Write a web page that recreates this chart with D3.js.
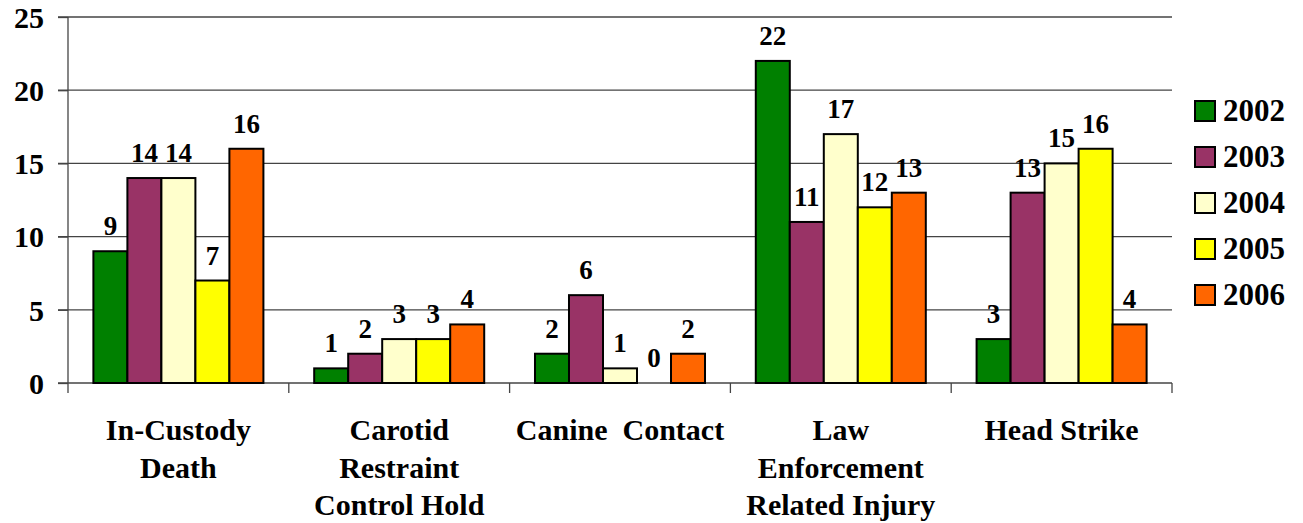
<!DOCTYPE html>
<html>
<head>
<meta charset="utf-8">
<script src="https://cdn.jsdelivr.net/npm/d3@7"></script>
</head>
<body style="margin:0;background:#fff">
<div id="chart"></div>
<script>
// data
var categories = [
  ["In-Custody", "Death"],
  ["Carotid", "Restraint", "Control Hold"],
  ["Canine  Contact"],
  ["Law", "Enforcement", "Related Injury"],
  ["Head Strike"]
];
var years = ["2002", "2003", "2004", "2005", "2006"];
var values = [
  [9, 14, 14, 7, 16],
  [1, 2, 3, 3, 4],
  [2, 6, 1, 0, 2],
  [22, 11, 17, 12, 13],
  [3, 13, 15, 16, 4]
];
var yTicks = [0, 5, 10, 15, 20, 25];
var colors = ["#008000", "#993366", "#FFFFCC", "#FFFF00", "#FF6600"];

var width = 1303, height = 523;
var plotLeft = 68, plotRight = 1172, plotTop = 17, plotBottom = 383;
var fontFam = "'Liberation Serif', 'Times New Roman', Tinos, serif";

var svg = d3.select("#chart").append("svg")
  .attr("width", width)
  .attr("height", height)
  .style("font-family", fontFam)
  .style("font-weight", "bold");

// scales
var x0 = d3.scaleBand()
  .domain(d3.range(categories.length))
  .range([plotLeft, plotRight]);
// bar group ~170px wide inside a ~221px category
var x1 = d3.scaleBand()
  .domain(years)
  .range([x0.bandwidth() * 0.115, x0.bandwidth() * 0.885]);

var y = d3.scaleLinear().domain([0, 25]).range([plotBottom, plotTop]);

// gridlines
svg.append("g").selectAll("line").data(yTicks.filter(function(d) { return d > 0; }))
  .enter().append("line")
  .attr("x1", plotLeft - 10).attr("x2", plotRight)
  .attr("y1", function(d) { return y(d); })
  .attr("y2", function(d) { return y(d); })
  .attr("stroke", "#444").attr("stroke-width", 1.3);

// y axis
var yAxis = d3.axisLeft(y).tickValues(yTicks).tickSize(10).tickPadding(14);
var gy = svg.append("g").attr("transform", "translate(" + plotLeft + ",0)").call(yAxis);
gy.attr("font-family", null).attr("font-size", null);
gy.select(".domain").remove();
gy.selectAll(".tick line").attr("stroke", "#444").attr("stroke-width", 1.3);
gy.selectAll(".tick text").attr("font-size", 30).attr("dy", "0.34em");
svg.append("line")
  .attr("x1", plotLeft).attr("x2", plotLeft)
  .attr("y1", plotTop).attr("y2", plotBottom + 10)
  .attr("stroke", "#444").attr("stroke-width", 1.3);

// x axis line and category ticks
svg.append("line")
  .attr("x1", plotLeft - 10).attr("x2", plotRight)
  .attr("y1", plotBottom).attr("y2", plotBottom)
  .attr("stroke", "#444").attr("stroke-width", 1.3);
svg.append("g").selectAll("line").data(d3.range(1, categories.length + 1))
  .enter().append("line")
  .attr("x1", function(i) { return x0(0) + i * x0.step(); })
  .attr("x2", function(i) { return x0(0) + i * x0.step(); })
  .attr("y1", plotBottom).attr("y2", plotBottom + 10)
  .attr("stroke", "#444").attr("stroke-width", 1.3);

// bars
var groups = svg.selectAll(".cat").data(values)
  .enter().append("g")
  .attr("class", "cat")
  .attr("transform", function(d, i) { return "translate(" + x0(i) + ",0)"; });

groups.selectAll("rect").data(function(d) { return d; })
  .enter().append("rect")
  .attr("x", function(d, j) { return x1(years[j]); })
  .attr("width", x1.bandwidth())
  .attr("y", function(d) { return y(d); })
  .attr("height", function(d) { return y(0) - y(d); })
  .attr("fill", function(d, j) { return colors[j]; })
  .attr("stroke", function(d) { return d > 0 ? "#000" : "none"; })
  .attr("stroke-width", 2);

// value labels
groups.selectAll(".val").data(function(d) { return d; })
  .enter().append("text")
  .attr("class", "val")
  .attr("x", function(d, j) { return x1(years[j]) + x1.bandwidth() / 2; })
  .attr("y", function(d) { return y(d) - 16; })
  .attr("text-anchor", "middle")
  .attr("font-size", 27)
  .text(function(d) { return d; });

// category labels
svg.selectAll(".catlabel").data(categories)
  .enter().append("text")
  .attr("class", "catlabel")
  .attr("text-anchor", "middle")
  .attr("x", function(d, i) { return x0(i) + x0.bandwidth() / 2; })
  .attr("y", 440)
  .attr("font-size", 30)
  .attr("xml:space", "preserve")
  .selectAll("tspan").data(function(d) { return d; })
  .enter().append("tspan")
  .attr("x", function(d) { return d3.select(this.parentNode).attr("x"); })
  .attr("dy", function(d, k) { return k === 0 ? 0 : 37.5; })
  .text(function(d) { return d; });

// legend
var legend = svg.selectAll(".leg").data(years)
  .enter().append("g")
  .attr("class", "leg")
  .attr("transform", function(d, i) { return "translate(1195," + (111 + i * 46) + ")"; });
legend.append("rect")
  .attr("x", 0).attr("y", -10)
  .attr("width", 20).attr("height", 20)
  .attr("fill", function(d, i) { return colors[i]; })
  .attr("stroke", "#000").attr("stroke-width", 2);
legend.append("text")
  .attr("x", 28).attr("y", 10)
  .attr("font-size", 31)
  .text(function(d) { return d; });

svg.selectAll("text").attr("fill", "#000");
</script>
</body>
</html>
